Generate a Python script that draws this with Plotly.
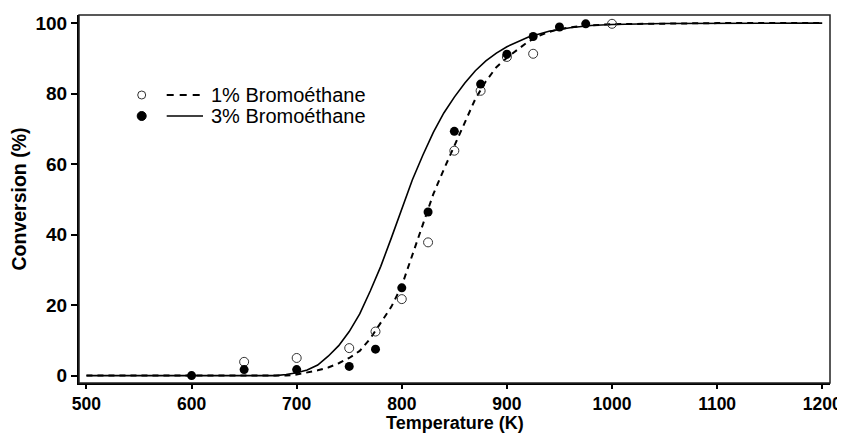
import plotly.graph_objects as go

# Measured points
t_open = [650, 700, 750, 775, 800, 825, 850, 875, 900, 925, 1000]
c_open = [3.9, 5.0, 7.8, 12.5, 21.7, 37.8, 63.8, 80.8, 90.4, 91.3, 99.8]

t_fill = [600, 650, 700, 750, 775, 800, 825, 850, 875, 900, 925, 950, 975]
c_fill = [0.0, 1.7, 1.7, 2.6, 7.5, 24.9, 46.4, 69.3, 82.7, 91.2, 96.2, 98.9, 99.8]

# Fitted curves
t_fit3 = [500, 600, 680, 690, 700, 710, 720, 730, 740, 750, 760, 770, 780, 790,
          800, 810, 820, 830, 840, 850, 860, 870, 880, 890, 900, 920, 940, 960,
          980, 1000, 1050, 1100, 1200]
c_fit3 = [0, 0, 0, 0.3, 0.8, 1.6, 3.0, 5.5, 8.5, 12.5, 17.5, 24, 31, 39,
          47.5, 55.5, 62.5, 69, 74.5, 79, 83, 86.5, 89.3, 91.5, 93.3, 96, 97.7, 98.7,
          99.3, 99.6, 99.9, 100, 100]

t_fit1 = [500, 600, 690, 700, 710, 720, 730, 740, 750, 760, 770, 780, 790, 800,
          810, 820, 830, 840, 850, 860, 870, 880, 890, 900, 910, 920, 930, 940,
          950, 970, 1000, 1100, 1200]
c_fit1 = [0, 0, 0, 0.3, 0.8, 1.5, 2.3, 3.5, 5.0, 7.0, 10.5, 15, 19.5, 25.5,
          34, 43, 51.5, 58.5, 65, 72, 78.5, 83.5, 87.5, 90.2, 92.5, 94.7, 96.3, 97.5,
          98.3, 99.2, 99.7, 100, 100]

x_ticks = [500, 600, 700, 800, 900, 1000, 1100, 1200]
y_ticks = [0, 20, 40, 60, 80, 100]
labels = ["1% Bromoéthane", "3% Bromoéthane"]
x_title = "Temperature (K)"
y_title = "Conversion (%)"

FONT = "Liberation Sans, Arial, sans-serif"

fig = go.Figure()
fig.add_trace(go.Scatter(x=t_fit1, y=c_fit1, mode="lines",
                         line=dict(color="black", width=2, dash="6px,5px"),
                         showlegend=False, hoverinfo="skip"))
fig.add_trace(go.Scatter(x=t_fit3, y=c_fit3, mode="lines",
                         line=dict(color="black", width=1.6),
                         showlegend=False, hoverinfo="skip"))
fig.add_trace(go.Scatter(x=t_open, y=c_open, mode="markers", name=labels[0],
                         marker=dict(symbol="circle-open", size=9,
                                     color="#333333", line=dict(width=1)),
                         showlegend=False))
fig.add_trace(go.Scatter(x=t_fill, y=c_fill, mode="markers", name=labels[1],
                         marker=dict(symbol="circle", size=9, color="black"),
                         showlegend=False))

# Manual legend (paper coordinates; page pixels of the plot area)
L, R, T, B = 79, 830, 15, 383
def px(x):
    return (x - L) / (R - L)
def py(y):
    return (B - y) / (B - T)

rows = [95, 116]
shapes = [
    dict(type="rect", xref="paper", yref="paper", x0=0, x1=1, y0=0, y1=1,
         line=dict(color="#222222", width=1.5)),
    dict(type="circle", xref="paper", yref="paper", xsizemode="pixel", ysizemode="pixel",
         xanchor=px(141.7), yanchor=py(rows[0]), x0=-4, x1=4, y0=-4, y1=4,
         line=dict(color="#333333", width=1), fillcolor="white"),
    dict(type="circle", xref="paper", yref="paper", xsizemode="pixel", ysizemode="pixel",
         xanchor=px(141.7), yanchor=py(rows[1]), x0=-4.5, x1=4.5, y0=-4.5, y1=4.5,
         line=dict(color="black", width=1), fillcolor="black"),
    dict(type="line", xref="paper", yref="paper", x0=px(166.7), x1=px(203), y0=py(rows[0]),
         y1=py(rows[0]), line=dict(color="black", width=2, dash="7px,6px")),
    dict(type="line", xref="paper", yref="paper", x0=px(166.7), x1=px(203), y0=py(rows[1]),
         y1=py(rows[1]), line=dict(color="black", width=1.6)),
]
annotations = [
    dict(xref="paper", yref="paper", x=px(209), y=py(r), text=lab, showarrow=False,
         xanchor="left", yanchor="middle", font=dict(family=FONT, size=20, color="black"))
    for r, lab in zip(rows, labels)
]
annotations.append(dict(xref="paper", yref="paper", x=0.5, y=py(422.5), text=x_title,
                        showarrow=False, xanchor="center", yanchor="middle",
                        font=dict(family=FONT, size=18, color="black", weight="bold")))

# The page body has an 8px margin, so the figure starts at (8, 8)
fig.update_layout(
    width=837, height=426,
    margin=dict(l=71, r=15, t=7, b=51, autoexpand=False),
    paper_bgcolor="white", plot_bgcolor="white",
    shapes=shapes, annotations=annotations,
    showlegend=False,
    font=dict(family=FONT, color="black"),
)
fig.update_xaxes(
    range=[492.9, 1207.4], tickvals=x_ticks, ticktext=[str(v) for v in x_ticks],
    showgrid=False, zeroline=False, showline=True, linecolor="black", linewidth=2,
    ticks="outside", ticklen=4, tickwidth=1.5, tickcolor="black", automargin=False,
    tickfont=dict(family=FONT, size=17.5, color="black", weight="bold"),
)
fig.update_yaxes(
    range=[-2.1, 102.3], tickvals=y_ticks, ticktext=[str(v) for v in y_ticks],
    showgrid=False, zeroline=False, showline=True, linecolor="black", linewidth=2,
    ticks="outside", ticklen=6, tickwidth=1.5, tickcolor="black", automargin=False,
    tickfont=dict(family=FONT, size=19, color="black", weight="bold"),
    title=dict(text=y_title, standoff=8,
               font=dict(family=FONT, size=19.5, color="black", weight="bold")),
)

fig.write_html("out.html")
